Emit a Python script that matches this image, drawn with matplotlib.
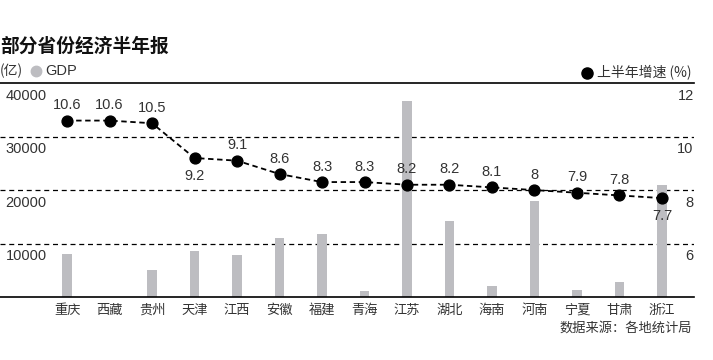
import matplotlib
matplotlib.use("Agg")
import matplotlib.pyplot as plt
from matplotlib.transforms import blended_transform_factory, offset_copy

plt.rcParams['font.family'] = ['Liberation Sans', 'Noto Sans CJK SC', 'DejaVu Sans']

provinces = ["重庆", "西藏", "贵州", "天津", "江西", "安徽", "福建", "青海",
             "江苏", "湖北", "海南", "河南", "宁夏", "甘肃", "浙江"]
gdp = [7980, 0, 4990, 8600, 7850, 11030, 11770, 1120,
       36690, 14200, 2050, 17940, 1300, 2800, 20930]
growth = [10.6, 10.6, 10.5, 9.2, 9.1, 8.6, 8.3, 8.3,
          8.2, 8.2, 8.1, 8, 7.9, 7.8, 7.7]
growth_labels = ["10.6", "10.6", "10.5", "9.2", "9.1", "8.6", "8.3", "8.3",
                 "8.2", "8.2", "8.1", "8", "7.9", "7.8", "7.7"]
below = {"9.2", "7.7"}
left_ticks = [10000, 20000, 30000, 40000]
right_ticks = [6, 8, 10, 12]

cjk = ['Noto Sans CJK SC', 'DejaVu Sans']
num = ['Liberation Sans', 'DejaVu Sans']

fig = plt.figure(figsize=(7.13, 3.6), dpi=100)
ax = fig.add_axes([0.0, 0.175, 0.973, 0.594])
ax2 = ax.twinx()

x = list(range(len(provinces)))
ax.bar(x, gdp, width=0.22, color="#bdbdc1", zorder=2)
ax.set_ylim(0, 40000)
ax.set_xlim(-1.58, len(provinces) - 1 + 0.75)

# grid lines
for v in [10000, 20000, 30000]:
    ax.axhline(v, color="black", lw=0.9, ls=(0, (4, 3)), zorder=1)
ax.axhline(40000, color="black", lw=1.2, zorder=1, clip_on=False)
ax.axhline(0, color="black", lw=1.2, zorder=3, clip_on=False)

for s in ax.spines.values():
    s.set_visible(False)
for s in ax2.spines.values():
    s.set_visible(False)
ax.set_yticks([])
ax2.set_yticks([])
ax.set_xticks(x)
ax.set_xticklabels(provinces, fontfamily=cjk, fontsize=9.5, color="#333333")
ax.tick_params(axis='x', length=0, pad=5)

# left tick labels
trL = offset_copy(blended_transform_factory(ax.transAxes, ax.transData), fig=fig, x=4, y=-4, units='points')
for v in left_ticks:
    ax.text(0, v, str(v), transform=trL, ha='left', va='top', fontsize=10.5,
            fontfamily=num, color="#333333")

# growth line
ax2.set_ylim(4, 12)
ax2.plot(x, growth, color="black", lw=1.3, ls=(0, (3, 2)), marker='o',
         markersize=7.8, markerfacecolor="black", markeredgecolor="black", zorder=5)
ax2.set_zorder(ax.get_zorder() + 1)
ax2.patch.set_visible(False)

trR = offset_copy(blended_transform_factory(ax2.transAxes, ax2.transData), fig=fig, x=0, y=-4, units='points')
for v in right_ticks:
    ax2.text(1.0, v, str(v), transform=trR, ha='right', va='top', fontsize=10.5,
             fontfamily=num, color="#333333")

for xi, g, lab in zip(x, growth, growth_labels):
    if lab in below:
        ax2.annotate(lab, (xi, g), xytext=(0, -8), textcoords='offset points',
                     ha='center', va='top', fontsize=10.5, fontfamily=num, color="#333333")
    else:
        ax2.annotate(lab, (xi, g), xytext=(0, 6), textcoords='offset points',
                     ha='center', va='bottom', fontsize=10.5, fontfamily=num, color="#333333")

# title and legend
fig.text(0.0, 1 - 46 / 360, "部分省份经济半年报", fontfamily=cjk, fontweight='bold',
         fontsize=13.5, ha='left', va='center', color="#111111")
fig.text(0.0, 1 - 71 / 360, "(亿)", fontfamily=cjk, fontsize=10, ha='left', va='center', color="#333333")
fig.lines.append(matplotlib.lines.Line2D([36 / 713], [1 - 71 / 360], transform=fig.transFigure,
                                         marker='o', markersize=7.5, color="#bdbdc1", ls='none'))
fig.text(45 / 713, 1 - 71 / 360, "GDP", fontfamily=num, fontsize=10.5, ha='left', va='center', color="#333333")
fig.lines.append(matplotlib.lines.Line2D([587 / 713], [1 - 72.5 / 360], transform=fig.transFigure,
                                         marker='o', markersize=8, color="black", ls='none'))
fig.text(597 / 713, 1 - 72.5 / 360, "上半年增速 (%)", fontfamily=cjk, fontsize=10, ha='left', va='center', color="#333333")

fig.text(692 / 713, 1 - 328 / 360, "数据来源：各地统计局", fontfamily=cjk, fontsize=9.5,
         ha='right', va='center', color="#333333")

fig.savefig("out.png", dpi=100)
